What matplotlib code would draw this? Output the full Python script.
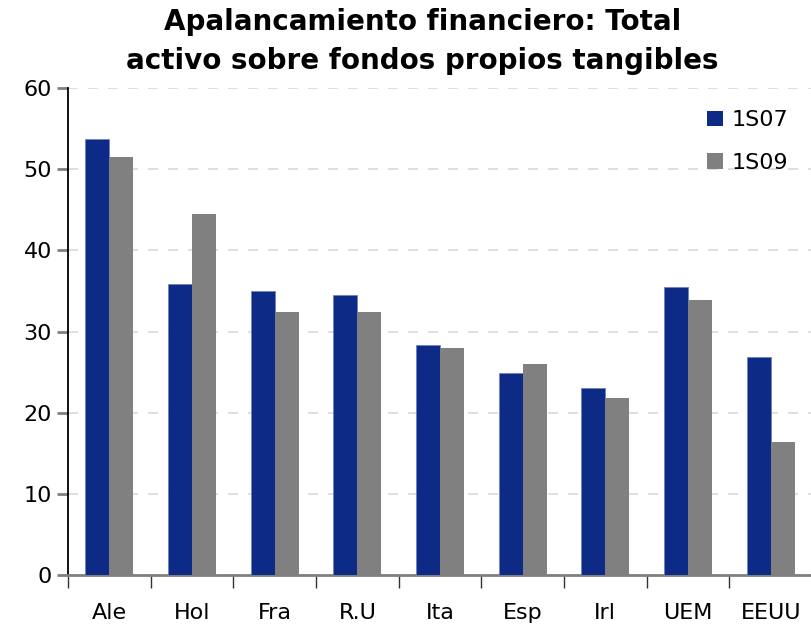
import numpy as np
import matplotlib.pyplot as plt
from matplotlib.patches import Patch

# Datos
paises = ['Ale', 'Hol', 'Fra', 'R.U', 'Ita', 'Esp', 'Irl', 'UEM', 'EEUU']
s1_07 = [53.7, 35.9, 35.0, 34.5, 28.3, 24.9, 23.1, 35.5, 26.8]
s1_09 = [51.5, 44.5, 32.4, 32.4, 28.0, 26.0, 21.8, 33.9, 16.4]

azul = '#0D2A87'
gris = '#808080'

fig = plt.figure(figsize=(8.12, 6.31), dpi=100)
ax = fig.add_axes([68 / 812, 56 / 631, 1 - 68 / 812, (575 - 88) / 631])

x = np.arange(len(paises))
w = 0.29
ax.bar(x - w / 2, s1_07, w, color=azul, edgecolor='#6F82C0', linewidth=0.6, zorder=3)
ax.bar(x + w / 2, s1_09, w, color=gris, zorder=3)

ax.set_xlim(-0.5, len(paises) - 0.5)
ax.set_ylim(0, 60)
ax.set_yticks(range(0, 61, 10))
ax.yaxis.grid(True, linestyle=(0, (6, 6)), color='#D9D9D9', linewidth=1.2, zorder=0)

# ticks del eje x en los limites de categoria
ax.set_xticks(x)
ax.set_xticklabels(paises, fontsize=16)
ax.tick_params(axis='x', length=0, pad=20)
ax.set_xticks(np.arange(-0.5, len(paises) - 0.5, 1), minor=True)
ax.tick_params(axis='x', which='minor', length=9, color='#333333', width=1)
ax.tick_params(axis='y', labelsize=16, length=8, color='#808080', width=2)

for s in ['top', 'right']:
    ax.spines[s].set_visible(False)
ax.spines['left'].set_color('black')
ax.spines['left'].set_linewidth(1.3)
ax.spines['bottom'].set_color('#808080')
ax.spines['bottom'].set_linewidth(2)

fig.text(0.52, 0.988, 'Apalancamiento financiero: Total\nactivo sobre fondos propios tangibles',
         ha='center', va='top', fontsize=20, fontweight='bold', linespacing=1.5)

handles = [Patch(facecolor=azul), Patch(facecolor=gris)]
ax.legend(handles, ['1S07', '1S09'], loc='upper right', bbox_to_anchor=(0.995, 0.995),
          frameon=False, fontsize=16, handlelength=0.7, handleheight=0.7,
          handletextpad=0.4, labelspacing=1.0)

fig.savefig('out.png', dpi=100)
